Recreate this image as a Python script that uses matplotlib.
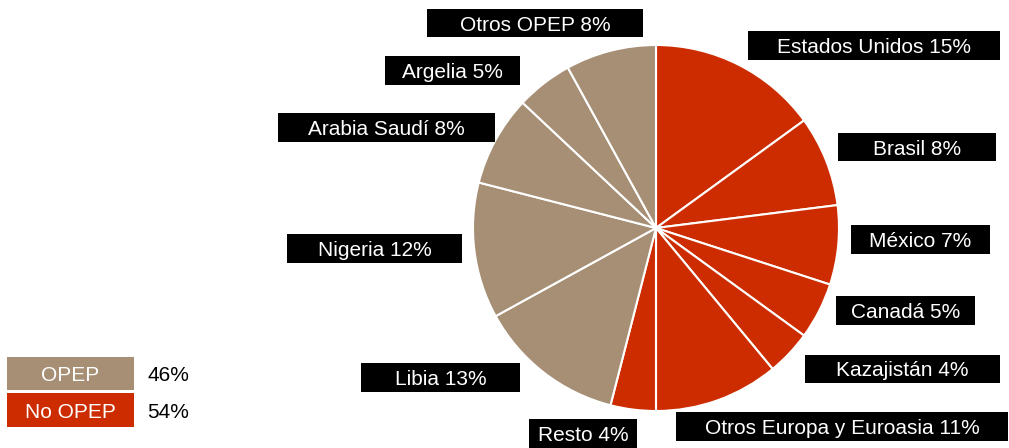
import matplotlib
matplotlib.use("Agg")
import matplotlib.pyplot as plt
from matplotlib.patches import Rectangle

plt.rcParams['font.family'] = ['Liberation Sans', 'DejaVu Sans']

# Data
categories = ["Estados Unidos", "Brasil", "México", "Canadá", "Kazajistán",
              "Otros Europa y Euroasia", "Resto", "Libia", "Nigeria",
              "Arabia Saudí", "Argelia", "Otros OPEP"]
values = [15, 8, 7, 5, 4, 11, 4, 13, 12, 8, 5, 8]
groups = ["No OPEP"] * 7 + ["OPEP"] * 5
legend_labels = ["OPEP", "No OPEP"]
legend_values = [46, 54]

RED = "#CC2C00"
TAN = "#A68F74"
group_colors = {"OPEP": TAN, "No OPEP": RED}

W, H = 1009, 448
fig = plt.figure(figsize=(W / 100, H / 100), dpi=100)
ax = fig.add_axes([0, 0, 1, 1])

cx, cy, r = 656, H - 228, 183
ax.pie(values, colors=[group_colors[g] for g in groups], startangle=90,
       counterclock=False, center=(cx, cy), radius=r,
       wedgeprops=dict(edgecolor='white', linewidth=1.5), frame=True)
ax.set_xlim(0, W)
ax.set_ylim(0, H)
ax.set_aspect('equal')
ax.axis('off')

# label box layout (pixel coords: x0, x1, ytop, ybottom)
boxes = {
    "Otros OPEP": (427, 643, 9, 37),
    "Estados Unidos": (748, 1000, 31, 60),
    "Argelia": (385, 520, 56, 85),
    "Brasil": (838, 996, 133, 161),
    "Arabia Saudí": (278, 495, 113, 142),
    "México": (851, 990, 225, 254),
    "Nigeria": (287, 462, 234, 263),
    "Canadá": (836, 975, 296, 325),
    "Kazajistán": (805, 1000, 355, 383),
    "Libia": (361, 520, 363, 392),
    "Otros Europa y Euroasia": (676, 1008, 412, 441),
    "Resto": (529, 637, 419, 448),
}
FS = 15
for cat, val in zip(categories, values):
    x0, x1, yt, yb = boxes[cat]
    ax.add_patch(Rectangle((x0, H - yb), x1 - x0, yb - yt, facecolor='black',
                           edgecolor='none', zorder=3))
    ax.text((x0 + x1) / 2, H - (yt + yb) / 2, f"{cat} {val}%", color='white',
            fontsize=FS, ha='center', va='center_baseline', zorder=4)

# legend
leg_rows = [(357, 390), (393, 427)]
for lab, val, (yt, yb) in zip(legend_labels, legend_values, leg_rows):
    ax.add_patch(Rectangle((7, H - yb), 127, yb - yt, facecolor=group_colors[lab],
                           edgecolor='none', zorder=3))
    ax.text(70.5, H - (yt + yb) / 2, lab, color='white', fontsize=FS,
            ha='center', va='center_baseline', zorder=4)
    ax.text(147, H - (yt + yb) / 2, f"{val}%", color='black', fontsize=FS,
            ha='left', va='center_baseline', zorder=4)

fig.savefig("out.png", dpi=100)
